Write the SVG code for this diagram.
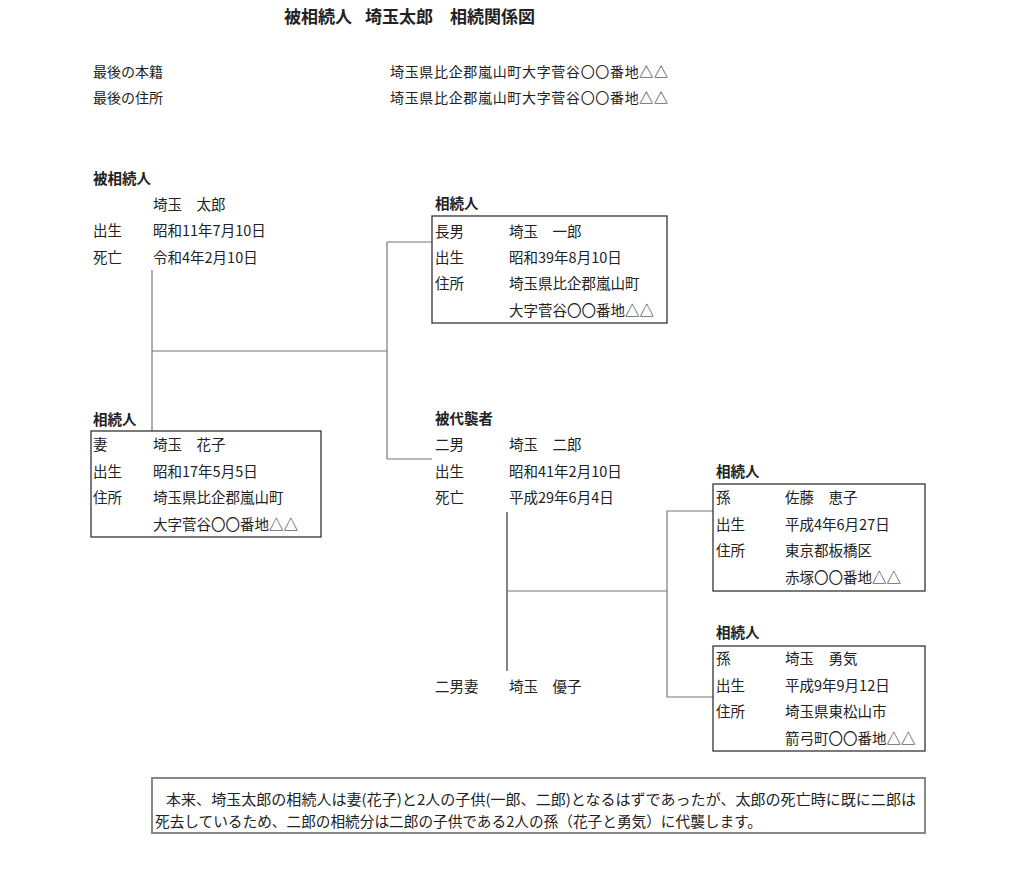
<svg xmlns="http://www.w3.org/2000/svg" width="1024" height="886" viewBox="0 0 1024 886">
<style>
text{font-family:"Noto Sans CJK JP","Noto Sans CJK SC",sans-serif;fill:#222;font-size:14.5px}
.t{font-size:17px;font-weight:bold}
.h{font-size:14px}
.b{font-weight:bold;font-size:14.5px}
.box{fill:none;stroke:#333;stroke-width:1.3}
.ln{fill:none;stroke:#777;stroke-width:1.2}
.note{fill:none;stroke:#888;stroke-width:2}
</style>
<rect width="1024" height="886" fill="#fff"/>
<g id="title">
<text class="t" y="23"><tspan x="284">被相続人</tspan><tspan x="365">埼玉太郎</tspan><tspan x="450">相続関係図</tspan></text>
</g>
<g id="header">
<text class="h" x="93" y="77">最後の本籍</text>
<text class="h" x="390" y="77" textLength="278">埼玉県比企郡嵐山町大字菅谷〇〇番地△△</text>
<text class="h" x="93" y="103">最後の住所</text>
<text class="h" x="390" y="103" textLength="278">埼玉県比企郡嵐山町大字菅谷〇〇番地△△</text>
</g>
<g id="connectors">
<path class="ln" d="M152 270V431"/>
<path class="ln" d="M152 351H387"/>
<path class="ln" d="M387 242V459"/>
<path class="ln" d="M387 242H432"/>
<path class="ln" d="M387 459H432"/>
<path class="ln" d="M507 512V671" style="stroke:#666;stroke-width:1.6"/>
<path class="ln" d="M507 591H667"/>
<path class="ln" d="M667 511V697"/>
<path class="ln" d="M667 511H713"/>
<path class="ln" d="M667 697H713"/>
</g>
<g id="decedent">
<text class="b" x="93" y="184">被相続人</text>
<text x="153" y="210">埼玉　太郎</text>
<text x="93" y="236">出生</text>
<text x="153" y="236">昭和11年7月10日</text>
<text x="93" y="263">死亡</text>
<text x="153" y="263">令和4年2月10日</text>
</g>
<g id="eldest-son">
<text class="b" x="435" y="209">相続人</text>
<rect class="box" x="432" y="216" width="235" height="107"/>
<text x="435" y="237">長男</text>
<text x="509" y="237">埼玉　一郎</text>
<text x="435" y="263">出生</text>
<text x="509" y="263">昭和39年8月10日</text>
<text x="435" y="289">住所</text>
<text x="509" y="289">埼玉県比企郡嵐山町</text>
<text x="509" y="316">大字菅谷〇〇番地△△</text>
</g>
<g id="wife">
<text class="b" x="93" y="425">相続人</text>
<rect class="box" x="91" y="431" width="230" height="106"/>
<text x="93" y="450">妻</text>
<text x="153" y="450">埼玉　花子</text>
<text x="93" y="477">出生</text>
<text x="153" y="477">昭和17年5月5日</text>
<text x="93" y="503">住所</text>
<text x="153" y="503">埼玉県比企郡嵐山町</text>
<text x="153" y="530">大字菅谷〇〇番地△△</text>
</g>
<g id="second-son">
<text class="b" x="435" y="424">被代襲者</text>
<text x="435" y="450">二男</text>
<text x="509" y="450">埼玉　二郎</text>
<text x="435" y="477">出生</text>
<text x="509" y="477">昭和41年2月10日</text>
<text x="435" y="503">死亡</text>
<text x="509" y="503">平成29年6月4日</text>
</g>
<g id="second-son-wife">
<text x="435" y="692">二男妻</text>
<text x="509" y="692">埼玉　優子</text>
</g>
<g id="grandchild-1">
<text class="b" x="716" y="477">相続人</text>
<rect class="box" x="713" y="484" width="212" height="107"/>
<text x="716" y="503">孫</text>
<text x="785" y="503">佐藤　恵子</text>
<text x="716" y="530">出生</text>
<text x="785" y="530">平成4年6月27日</text>
<text x="716" y="556">住所</text>
<text x="785" y="556">東京都板橋区</text>
<text x="785" y="583">赤塚〇〇番地△△</text>
</g>
<g id="grandchild-2">
<text class="b" x="716" y="638">相続人</text>
<rect class="box" x="713" y="646" width="212" height="105"/>
<text x="716" y="664">孫</text>
<text x="785" y="664">埼玉　勇気</text>
<text x="716" y="691">出生</text>
<text x="785" y="691">平成9年9月12日</text>
<text x="716" y="717">住所</text>
<text x="785" y="717">埼玉県東松山市</text>
<text x="785" y="744">箭弓町〇〇番地△△</text>
</g>
<g id="note">
<rect class="note" x="152" y="778" width="773" height="55"/>
<text x="166" y="805" textLength="750" lengthAdjust="spacingAndGlyphs">本来、埼玉太郎の相続人は妻(花子)と2人の子供(一郎、二郎)となるはずであったが、太郎の死亡時に既に二郎は</text>
<text x="155" y="827" textLength="607" lengthAdjust="spacingAndGlyphs">死去しているため、二郎の相続分は二郎の子供である2人の孫（花子と勇気）に代襲します。</text>
</g>
</svg>
